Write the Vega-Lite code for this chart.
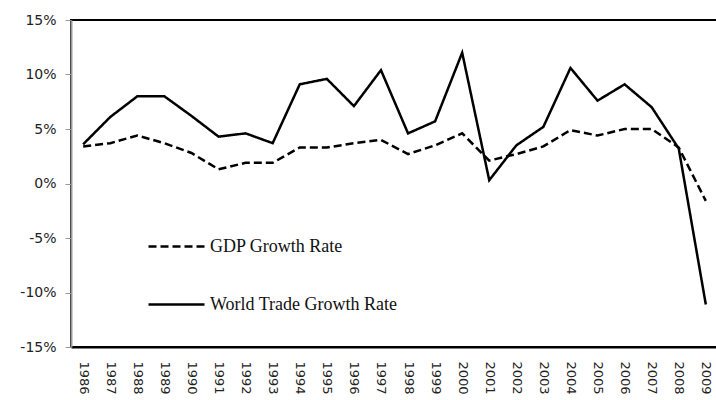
{
  "$schema": "https://vega.github.io/schema/vega-lite/v6.json",
  "autosize": "none",
  "width": 647,
  "height": 327,
  "padding": {"left": 71, "top": 20, "right": 0, "bottom": 53},
  "background": "white",
  "config": {
    "view": {"stroke": "black", "strokeWidth": 2},
    "font": "DejaVu Sans"
  },
  "data": {
    "values": [
      {"year": "1986", "series": "GDP Growth Rate", "value": 3.4},
      {"year": "1987", "series": "GDP Growth Rate", "value": 3.7},
      {"year": "1988", "series": "GDP Growth Rate", "value": 4.4},
      {"year": "1989", "series": "GDP Growth Rate", "value": 3.7},
      {"year": "1990", "series": "GDP Growth Rate", "value": 2.8},
      {"year": "1991", "series": "GDP Growth Rate", "value": 1.3},
      {"year": "1992", "series": "GDP Growth Rate", "value": 1.9},
      {"year": "1993", "series": "GDP Growth Rate", "value": 1.9},
      {"year": "1994", "series": "GDP Growth Rate", "value": 3.3},
      {"year": "1995", "series": "GDP Growth Rate", "value": 3.3},
      {"year": "1996", "series": "GDP Growth Rate", "value": 3.7},
      {"year": "1997", "series": "GDP Growth Rate", "value": 4.0},
      {"year": "1998", "series": "GDP Growth Rate", "value": 2.7},
      {"year": "1999", "series": "GDP Growth Rate", "value": 3.5},
      {"year": "2000", "series": "GDP Growth Rate", "value": 4.6},
      {"year": "2001", "series": "GDP Growth Rate", "value": 2.1},
      {"year": "2002", "series": "GDP Growth Rate", "value": 2.7},
      {"year": "2003", "series": "GDP Growth Rate", "value": 3.4},
      {"year": "2004", "series": "GDP Growth Rate", "value": 4.9},
      {"year": "2005", "series": "GDP Growth Rate", "value": 4.4},
      {"year": "2006", "series": "GDP Growth Rate", "value": 5.0},
      {"year": "2007", "series": "GDP Growth Rate", "value": 5.0},
      {"year": "2008", "series": "GDP Growth Rate", "value": 3.3},
      {"year": "2009", "series": "GDP Growth Rate", "value": -1.6},
      {"year": "1986", "series": "World Trade  Growth Rate", "value": 3.6},
      {"year": "1987", "series": "World Trade  Growth Rate", "value": 6.1},
      {"year": "1988", "series": "World Trade  Growth Rate", "value": 8.0},
      {"year": "1989", "series": "World Trade  Growth Rate", "value": 8.0},
      {"year": "1990", "series": "World Trade  Growth Rate", "value": 6.2},
      {"year": "1991", "series": "World Trade  Growth Rate", "value": 4.3},
      {"year": "1992", "series": "World Trade  Growth Rate", "value": 4.6},
      {"year": "1993", "series": "World Trade  Growth Rate", "value": 3.7},
      {"year": "1994", "series": "World Trade  Growth Rate", "value": 9.1},
      {"year": "1995", "series": "World Trade  Growth Rate", "value": 9.6},
      {"year": "1996", "series": "World Trade  Growth Rate", "value": 7.1},
      {"year": "1997", "series": "World Trade  Growth Rate", "value": 10.4},
      {"year": "1998", "series": "World Trade  Growth Rate", "value": 4.6},
      {"year": "1999", "series": "World Trade  Growth Rate", "value": 5.7},
      {"year": "2000", "series": "World Trade  Growth Rate", "value": 12.0},
      {"year": "2001", "series": "World Trade  Growth Rate", "value": 0.3},
      {"year": "2002", "series": "World Trade  Growth Rate", "value": 3.5},
      {"year": "2003", "series": "World Trade  Growth Rate", "value": 5.2},
      {"year": "2004", "series": "World Trade  Growth Rate", "value": 10.6},
      {"year": "2005", "series": "World Trade  Growth Rate", "value": 7.6},
      {"year": "2006", "series": "World Trade  Growth Rate", "value": 9.1},
      {"year": "2007", "series": "World Trade  Growth Rate", "value": 7.0},
      {"year": "2008", "series": "World Trade  Growth Rate", "value": 3.2},
      {"year": "2009", "series": "World Trade  Growth Rate", "value": -11.1}
    ]
  },
  "mark": {"type": "line", "color": "black", "strokeWidth": 2.5, "clip": false},
  "encoding": {
    "x": {
      "field": "year",
      "type": "ordinal",
      "scale": {"type": "point", "padding": 0.45},
      "axis": {
        "title": null,
        "labelAngle": 90,
        "labelFontSize": 13,
        "labelColor": "#222",
        "labelPadding": 14,
        "ticks": false,
        "domainColor": "black",
        "domainWidth": 2
      }
    },
    "y": {
      "field": "value",
      "type": "quantitative",
      "scale": {"domain": [-15, 15], "nice": false, "zero": false},
      "axis": {
        "title": null,
        "values": [-15, -10, -5, 0, 5, 10, 15],
        "labelExpr": "datum.value + '%'",
        "labelFontSize": 14,
        "labelColor": "#222",
        "labelPadding": 9,
        "tickSize": 6,
        "tickColor": "#999",
        "domainColor": "#999",
        "domainWidth": 2,
        "grid": false
      }
    },
    "strokeDash": {
      "field": "series",
      "type": "nominal",
      "scale": {
        "domain": ["GDP Growth Rate", "World Trade  Growth Rate"],
        "range": [[8, 4], [1, 0]]
      },
      "legend": {
        "title": null,
        "orient": "none",
        "legendX": 76,
        "legendY": 197,
        "padding": 0,
        "symbolType": "stroke",
        "symbolSize": 3136,
        "symbolStrokeColor": "black",
        "symbolStrokeWidth": 2.5,
        "labelFont": "Liberation Serif",
        "labelFontSize": 18,
        "labelColor": "#111",
        "labelOffset": 4,
        "labelLimit": 0,
        "rowPadding": 19
      }
    }
  }
}
